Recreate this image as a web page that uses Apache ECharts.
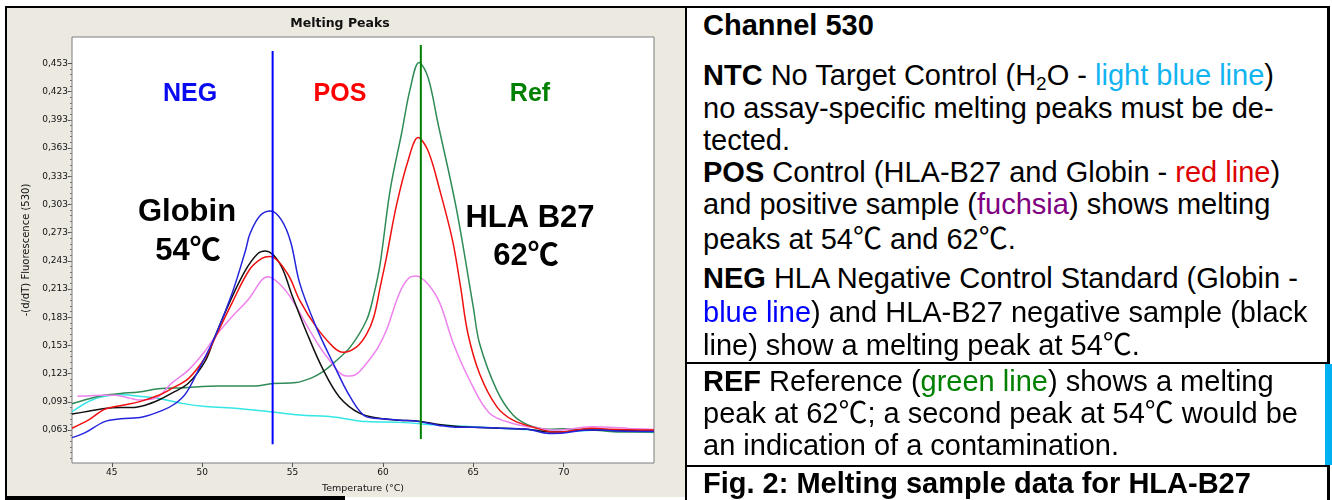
<!DOCTYPE html>
<html>
<head>
<meta charset="utf-8" />
<title>Melting Peaks</title>
<script src="https://cdn.jsdelivr.net/npm/echarts@6.0.0/dist/echarts.min.js"></script>
<style>
  body { margin: 0; width: 1332px; height: 500px; position: relative; background: #fff; overflow: hidden;
         font-family: "Liberation Sans", Arial, "Noto Sans CJK SC", sans-serif; }
  .bar { position: absolute; background: #000; }
  #panel { position: absolute; left: 7px; top: 8px; width: 679px; height: 489px; background: #ece9e1; }
  #chart { position: absolute; left: 0; top: 0; width: 686px; height: 500px; }
  .ln { position: absolute; left: 703px; font-size: 29px; line-height: 29px; height: 29px; white-space: nowrap; color: #000; }
  .ln sub { font-size: 19px; vertical-align: -5px; line-height: 0; }
  .lb { color: #12b4f0; } .rd { color: #dd0000; } .fu { color: #800080; } .bl { color: #0000ff; } .gr { color: #008000; }
</style>
</head>
<body>
<div id="panel"></div>
<div id="chart"></div>

<!-- frame and table rules -->
<div class="bar" style="left:5px;top:6px;width:1325px;height:2px"></div>
<div class="bar" style="left:5px;top:6px;width:2px;height:494px"></div>
<div class="bar" style="left:5px;top:496px;width:340px;height:4px"></div>
<div class="bar" style="left:685px;top:6px;width:2px;height:494px"></div>
<div class="bar" style="left:1327px;top:6px;width:3px;height:358px"></div>
<div class="bar" style="left:685px;top:362px;width:645px;height:2px"></div>
<div class="bar" style="left:685px;top:465px;width:645px;height:2px"></div>
<div class="bar" style="left:1327px;top:466px;width:3px;height:34px"></div>
<div style="position:absolute;left:1325px;top:364px;width:7px;height:101px;background:#00b0f0"></div>

<div class="ln" style="top:11px"><b>Channel 530</b></div>
<div class="ln" style="top:61px"><b>NTC</b> No Target Control (H<sub>2</sub>O - <span class="lb">light blue line</span>)</div>
<div class="ln" style="top:94px">no assay-specific melting peaks must be de-</div>
<div class="ln" style="top:126px">tected.</div>
<div class="ln" style="top:158px"><b>POS</b> Control (HLA-B27 and Globin - <span class="rd">red line</span>)</div>
<div class="ln" style="top:190px">and positive sample (<span class="fu">fuchsia</span>) shows melting</div>
<div class="ln" style="top:225px">peaks at 54℃ and 62℃.</div>
<div class="ln" style="top:264px"><b>NEG</b> HLA Negative Control Standard (Globin -</div>
<div class="ln" style="top:298px"><span class="bl">blue line</span>) and HLA-B27 negative sample (black</div>
<div class="ln" style="top:331px">line) show a melting peak at 54℃.</div>
<div class="ln" style="top:367px"><b>REF</b> Reference (<span class="gr">green line</span>) shows a melting</div>
<div class="ln" style="top:399px">peak at 62℃; a second peak at 54℃ would be</div>
<div class="ln" style="top:431px">an indication of a contamination.</div>
<div class="ln" style="top:469px"><b>Fig. 2: Melting sample data for HLA-B27</b></div>

<script type="text/javascript">
  // melting curves, [temperature °C, -(d/dT) fluorescence]
  var globinNeg = [[42.8,0.055],[43.5,0.060],[44.6,0.072],[45.5,0.075],[46.7,0.077],[47.8,0.084],[48.5,0.091],[49.1,0.102],
    [49.8,0.127],[50.7,0.162],[51.65,0.208],[52.4,0.254],[52.65,0.272],[53.2,0.291],[53.8,0.296],[54.4,0.286],[54.9,0.263],
    [55.4,0.219],[56.3,0.173],[57.25,0.134],[58.2,0.098],[59.1,0.077],[60.0,0.075],[61.0,0.0735],[62.0,0.072],[63.1,0.068],
    [64.0,0.066],[65.0,0.066],[66.5,0.065],[68.0,0.064],[69.2,0.0595],[70.0,0.060],[71.0,0.0625],[72.0,0.063],[73.0,0.062],[75.0,0.0615]];
  var negSample = [[42.8,0.080],[43.7,0.083],[44.6,0.086],[45.5,0.087],[46.1,0.087],[46.85,0.0895],[47.6,0.095],[48.3,0.102],
    [49.25,0.113],[50.2,0.1375],[50.7,0.162],[51.5,0.198],[52.4,0.233],[53.1,0.251],[53.5,0.2535],[54.3,0.240],[55.0,0.205],
    [55.8,0.166],[56.7,0.127],[57.6,0.098],[58.7,0.081],[59.8,0.0755],[60.9,0.0735],[62.0,0.0725],[63.1,0.069],[64.0,0.067],
    [65.0,0.066],[66.5,0.065],[68.0,0.064],[69.2,0.061],[70.0,0.061],[71.0,0.063],[72.0,0.063],[73.0,0.0625],[75.0,0.062]];
  var posControl = [[42.8,0.065],[43.7,0.0735],[44.6,0.085],[45.6,0.0895],[46.5,0.093],[47.6,0.100],[48.3,0.107],[49.25,0.118],
    [50.2,0.141],[50.7,0.1605],[51.65,0.198],[52.6,0.233],[53.3,0.2455],[53.75,0.2475],[54.7,0.230],[55.4,0.201],[56.3,0.173],
    [57.25,0.1515],[57.8,0.1457],[58.55,0.1515],[59.1,0.165],[59.5,0.1835],[59.85,0.215],[60.2,0.247],[60.75,0.302],[61.4,0.350],
    [61.95,0.374],[62.5,0.360],[63.15,0.318],[63.85,0.265],[64.3,0.215],[64.7,0.166],[65.35,0.123],[66.3,0.088],[67.2,0.0735],
    [68.5,0.065],[69.5,0.061],[70.0,0.0612],[71.0,0.064],[71.6,0.065],[72.5,0.064],[75.0,0.063]];
  var posSample = [[43.1,0.099],[43.8,0.0995],[44.5,0.100],[45.2,0.100],[46.0,0.097],[46.5,0.095],[47.4,0.0967],[48.3,0.1127],
    [49.25,0.127],[50.2,0.148],[50.7,0.162],[51.65,0.1835],[52.6,0.203],[53.3,0.2226],[53.65,0.226],[54.3,0.218],[55.0,0.201],
    [55.95,0.169],[56.9,0.141],[58.0,0.1204],[58.5,0.122],[59.1,0.134],[59.7,0.150],[60.2,0.1694],[60.9,0.208],[61.4,0.224],
    [61.85,0.2268],[62.5,0.218],[63.15,0.198],[63.9,0.155],[64.8,0.116],[65.9,0.081],[67.2,0.070],[68.7,0.0648],[69.5,0.063],
    [70.5,0.0645],[71.6,0.0665],[72.5,0.066],[73.6,0.0648],[75.0,0.0637]];
  var reference = [[42.8,0.091],[43.7,0.096],[44.6,0.100],[45.5,0.102],[46.5,0.1035],[47.6,0.107],[48.9,0.108],[50.9,0.110],
    [52.9,0.110],[53.9,0.1125],[55.2,0.1135],[56.0,0.118],[56.6,0.124],[57.25,0.134],[58.2,0.1515],[59.1,0.180],[59.5,0.207],
    [59.85,0.240],[60.4,0.318],[61.05,0.380],[61.5,0.425],[62.0,0.454],[62.5,0.438],[63.05,0.389],[64.05,0.300],[65.0,0.194],
    [65.35,0.155],[66.3,0.1055],[67.2,0.079],[68.1,0.068],[69.2,0.064],[70.0,0.0645],[71.0,0.0635],[72.0,0.0625],[73.0,0.061],[75.0,0.061]];
  var ntc = [[42.8,0.0825],[43.9,0.095],[45.0,0.100],[45.7,0.1005],[46.5,0.099],[47.6,0.0967],[48.9,0.0914],[50.2,0.088],
    [52.0,0.086],[53.75,0.0825],[55.4,0.079],[57.25,0.077],[59.1,0.072],[60.9,0.0712],[63.15,0.0683],[64.5,0.067],[66.5,0.065],
    [68.0,0.0635],[69.0,0.062],[70.0,0.0615],[72.0,0.063],[73.5,0.062],[75.0,0.0605]];
  // peak markers
  var globinMark = [[53.9,0.048],[53.9,0.466]];
  var hlaMark = [[62.1,0.0534],[62.1,0.4726]];

  var xTicks = [45, 50, 55, 60, 65, 70];
  var yTicks = [0.063, 0.093, 0.123, 0.153, 0.183, 0.213, 0.243, 0.273, 0.303, 0.333, 0.363, 0.393, 0.423, 0.453];
  var yMinor = [];
  for (var i = 0; i < 70; i++) yMinor.push(+(0.033 + i * 0.006).toFixed(3));

  var chart = echarts.init(document.getElementById("chart"));
  var axisFont = { fontFamily: "DejaVu Sans", fontSize: 9, color: "#111" };

  function curve(name, data, color, z) {
    return { name: name, type: "line", data: data, smooth: 0.35, showSymbol: false, silent: true, z: z || 2,
             lineStyle: { color: color, width: 1.5 } };
  }
  function marker(data, color) {
    return { type: "line", data: data, showSymbol: false, silent: true, z: 5, lineStyle: { color: color, width: 2 } };
  }
  function label(text, x, y, size, color) {
    return { type: "text", x: x, y: y, z: 10,
             style: { text: text, align: "center", verticalAlign: "middle", fill: color,
                      font: "bold " + size + 'px "Liberation Sans", Arial, "Noto Sans CJK SC"' } };
  }

  var option = {
    animation: false,
    grid: { left: 72, top: 37, width: 582, height: 426, show: true, backgroundColor: "#fff",
            borderColor: "#7d7d7d", borderWidth: 1 },
    xAxis: {
      type: "value", min: 42.8, max: 75,
      name: "Temperature (°C)", nameLocation: "middle", nameGap: 21,
      nameTextStyle: { fontFamily: "DejaVu Sans", fontSize: 9.5, color: "#111" },
      axisLine: { show: false }, splitLine: { show: false },
      axisTick: { customValues: xTicks, length: 4, lineStyle: { color: "#555" } },
      axisLabel: Object.assign({ customValues: xTicks, margin: 5 }, axisFont)
    },
    yAxis: [{
      type: "value", min: 0.028, max: 0.481,
      name: "-(d/dT) Fluorescence (530)", nameLocation: "middle", nameGap: 35,
      nameTextStyle: { fontFamily: "DejaVu Sans", fontSize: 10, color: "#111" },
      axisLine: { show: false }, splitLine: { show: false },
      axisTick: { customValues: yTicks, length: 4, lineStyle: { color: "#555" } },
      axisLabel: Object.assign({ customValues: yTicks, margin: 4,
        formatter: function (v) { return v.toFixed(3).replace(".", ","); } }, axisFont)
    }, {
      type: "value", min: 0.028, max: 0.481, position: "left",
      axisLine: { show: false }, splitLine: { show: false }, axisLabel: { show: false },
      axisTick: { customValues: yMinor, length: 2, lineStyle: { color: "#777" } }
    }],
    series: [
      curve("NTC", ntc, "#34e6e6", 1),
      curve("Ref", reference, "#2e8b57", 2),
      curve("POS sample", posSample, "#ee82ee", 2),
      curve("NEG sample", negSample, "#111111", 3),
      curve("POS control", posControl, "#f01010", 3),
      curve("Globin NEG", globinNeg, "#2424dc", 3),
      marker(globinMark, "#0000ff"),
      marker(hlaMark, "#008000")
    ],
    graphic: [
      { type: "text", x: 340, y: 24, z: 10,
        style: { text: "Melting Peaks", align: "center", verticalAlign: "middle", fill: "#111",
                 font: 'bold 12.5px "DejaVu Sans"' } },
      label("NEG", 190, 94, 25, "#0a0af0"),
      label("POS", 340, 94, 25, "#ff0000"),
      label("Ref", 530, 94, 25, "#008000"),
      label("Globin", 187, 212, 31, "#000"),
      label("54℃", 188, 251, 31, "#000"),
      label("HLA B27", 530, 218, 31, "#000"),
      label("62℃", 526, 256, 31, "#000")
    ]
  };
  chart.setOption(option);
</script>
</body>
</html>
